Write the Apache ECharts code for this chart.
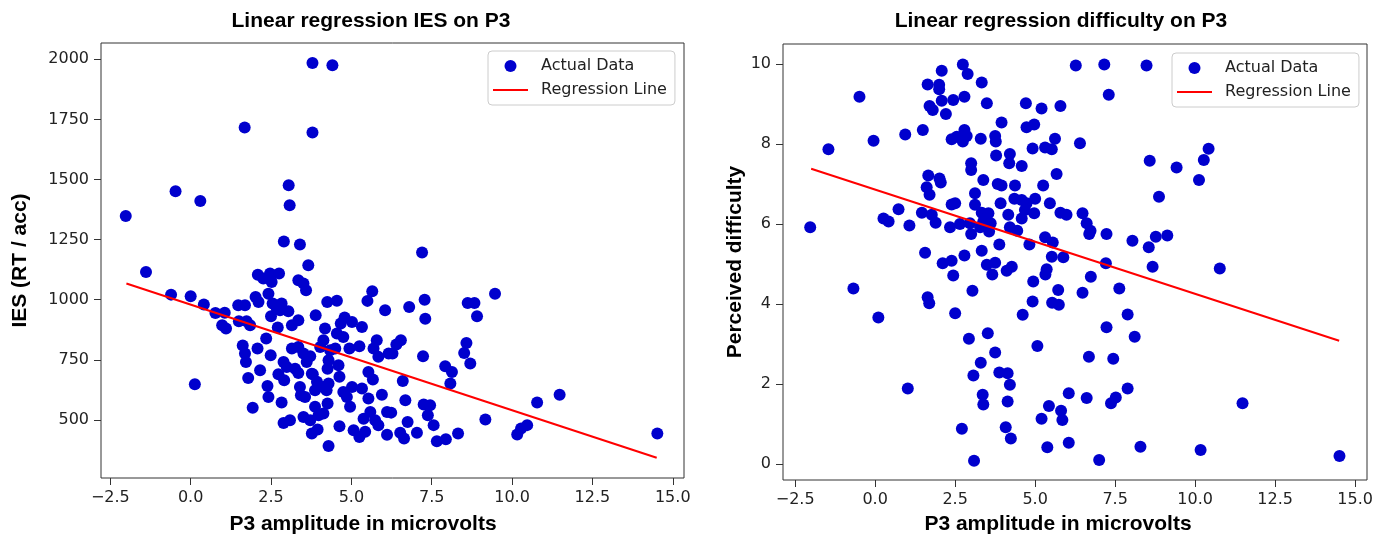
<!DOCTYPE html>
<html>
<head>
<meta charset="utf-8">
<title>Linear regression on P3</title>
<script src="https://cdn.jsdelivr.net/npm/echarts@6/dist/echarts.min.js"></script>
<style>
  html, body { margin: 0; padding: 0; background: #fff; }
  #chart { width: 1386px; height: 538px; }
</style>
</head>
<body>
<div id="chart"></div>
<script>
// P3 amplitude (x) and IES (y) for the left panel
const iesP3 = [
  3.79, 4.41, 1.68, 3.79, 3.05, -0.47, 0.30, 3.08, -2.02, 2.90,
  3.40, 3.66, -1.39, 2.09, 2.47, 2.75, 2.26, 2.52, 3.35, 3.51,
  3.59, -0.61, 0.00, 2.42, 2.02, 2.11, 0.41, 1.48, 1.69, 2.55,
  2.83, 2.68, 2.78, 3.04, 4.25, 4.55, 5.50, 5.65, 6.05, 0.77,
  1.06, 0.98, 1.10, 1.50, 1.74, 1.85, 2.50, 2.71, 3.15, 3.35,
  3.89, 4.18, 4.79, 5.02, 5.33, 4.67, 4.55, 4.75, 2.35, 1.62,
  1.69, 1.72, 2.08, 2.49, 3.15, 3.35, 3.51, 3.72, 4.13, 4.03,
  4.34, 4.50, 4.94, 5.25, 5.79, 5.69, 5.84, 6.16, 2.89, 2.99,
  3.25, 3.35, 3.61, 3.77, 4.29, 4.60, 4.26, 2.16, 1.79, 2.73,
  2.91, 3.80, 4.63, 5.53, 5.67, 0.13, 2.39, 3.40, 3.43, 3.56,
  3.93, 4.13, 4.29, 4.23, 3.87, 4.75, 5.02, 4.86, 4.96, 5.33,
  5.53, 5.95, 2.42, 2.83, 4.26, 3.87, 4.13, 1.93, 3.51, 3.72,
  3.98, 2.89, 3.09, 4.63, 5.38, 5.59, 5.74, 5.84, 6.11, 3.77,
  3.95, 5.07, 5.25, 5.43, 4.29, 6.11, 7.20, 7.28, 7.30, 6.80,
  8.62, 8.83, 8.91, 9.47, 6.40, 6.54, 6.28, 7.23, 8.58, 8.51,
  8.70, 7.92, 8.13, 8.08, 6.60, 6.68, 7.25, 7.45, 7.38, 7.56,
  6.24, 6.75, 6.52, 6.64, 7.04, 7.66, 7.94, 8.32, 9.17, 10.16,
  10.28, 10.47, 10.78, 11.48, 14.52
]
const iesValues = [
  1985, 1975, 1716, 1696, 1476, 1451, 1411, 1393, 1348, 1242,
  1230, 1143, 1115, 1104, 1109, 1109, 1088, 1074, 1081, 1067,
  1039, 1021, 1014, 1025, 1011, 990, 980, 977, 977, 984,
  984, 963, 956, 952, 990, 996, 995, 1035, 956, 945,
  946, 894, 880, 910, 910, 894, 931, 884, 894, 914,
  935, 880, 926, 907, 886, 901, 859, 845, 838, 809,
  776, 741, 797, 769, 797, 803, 776, 765, 831, 803,
  790, 797, 797, 806, 831, 797, 762, 776, 741, 720,
  713, 695, 741, 692, 748, 727, 713, 706, 674, 690,
  665, 690, 679, 699, 668, 648, 641, 637, 602, 595,
  658, 637, 651, 623, 623, 616, 637, 595, 554, 630,
  589, 604, 595, 572, 568, 554, 526, 550, 512, 498,
  519, 487, 498, 473, 505, 533, 498, 477, 533, 443,
  460, 457, 429, 450, 391, 438, 1196, 1000, 921, 970,
  986, 986, 931, 1025, 813, 831, 776, 765, 820, 778,
  734, 723, 699, 651, 662, 582, 564, 561, 519, 478,
  530, 491, 446, 422, 446, 411, 419, 443, 501, 439,
  464, 478, 572, 604, 443
]

// P3 amplitude (x) and perceived difficulty (y) for the right panel
const diffP3 = [
  2.74, 2.08, 2.89, 1.64, 2.00, 2.00, 3.33, -0.49, 2.08, 2.44,
  2.79, 3.49, 1.70, 1.80, 2.21, 4.71, 5.20, 5.79, 3.95, 4.73,
  4.97, 1.49, 0.94, -0.05, -1.46, 2.39, 2.55, 2.79, 2.86, 2.74,
  3.30, 3.75, 3.77, 5.62, 4.92, 5.31, 5.52, 3.78, 4.21, 4.19,
  4.58, 3.00, 3.00, 5.67, 1.66, 2.01, 2.05, 3.38, 3.83, 3.95,
  4.37, 5.25, 1.61, 1.70, 3.12, 4.35, 4.58, 5.00, 2.39, 2.50,
  3.12, 3.92, 4.73, 4.68, 5.46, 0.73, 0.26, 0.42, 1.07, -2.03,
  1.46, 1.77, 1.89, 2.34, 2.65, 2.96, 3.00, 3.33, 3.54, 3.38,
  3.61, 3.28, 3.56, 4.16, 4.21, 4.44, 4.58, 4.97, 5.79, 5.98,
  3.88, 4.82, 5.31, 5.55, 5.52, 5.88, 1.56, 2.79, 3.33, 2.11,
  2.39, 2.44, 3.49, 3.75, 3.66, 4.11, 4.27, 5.32, 5.36, 4.94,
  5.72, -0.68, 3.04, 1.64, 1.69, 4.92, 5.53, 5.74, 2.50, 4.61,
  0.10, 3.52, 2.93, 5.07, 3.75, 3.30, 3.07, 3.88, 4.14, 4.21,
  1.02, 6.05, 3.36, 3.38, 4.14, 5.43, 5.81, 5.85, 5.20, 2.71,
  4.08, 4.24, 5.38, 6.05, 3.09, 6.27, 7.16, 8.48, 7.30, 6.40,
  8.58, 9.42, 10.12, 10.27, 10.42, 8.87, 6.48, 6.61, 6.73, 6.69,
  7.23, 8.04, 8.77, 9.13, 8.55, 7.21, 8.67, 10.77, 6.74, 7.63,
  6.48, 7.89, 7.23, 8.11, 6.68, 7.44, 6.61, 7.37, 7.52, 7.89,
  11.48, 7.00, 8.29, 10.17, 14.51
]
const diffValues = [
  9.99, 9.83, 9.75, 9.49, 9.48, 9.37, 9.54, 9.18, 9.08, 9.10,
  9.18, 9.02, 8.95, 8.85, 8.75, 9.02, 8.89, 8.95, 8.54, 8.42,
  8.49, 8.35, 8.24, 8.08, 7.87, 8.12, 8.18, 8.35, 8.20, 8.06,
  8.13, 8.20, 8.06, 8.13, 7.89, 7.91, 7.87, 7.71, 7.75, 7.52,
  7.45, 7.52, 7.35, 7.25, 7.21, 7.14, 7.04, 7.10, 7.00, 6.96,
  6.96, 6.96, 6.92, 6.73, 6.77, 6.63, 6.60, 6.63, 6.49, 6.52,
  6.48, 6.52, 6.52, 6.35, 6.52, 6.37, 6.14, 6.06, 5.96, 5.92,
  6.28, 6.23, 6.03, 5.92, 6.00, 6.02, 5.75, 6.28, 6.27, 6.06,
  6.02, 5.92, 5.81, 6.23, 5.92, 5.83, 6.14, 6.27, 6.28, 6.23,
  5.49, 5.49, 5.67, 5.54, 5.18, 5.17, 5.28, 5.21, 5.33, 5.02,
  5.08, 4.71, 4.98, 5.03, 4.74, 4.83, 4.93, 4.74, 4.87, 4.56,
  4.35, 4.39, 4.33, 4.17, 4.02, 4.06, 4.03, 3.98, 3.77, 3.73,
  3.66, 3.27, 3.13, 2.95, 2.79, 2.53, 2.21, 2.29, 2.27, 1.98,
  1.89, 1.77, 1.73, 1.49, 1.56, 1.45, 1.33, 1.10, 1.13, 0.88,
  0.92, 0.64, 0.42, 0.53, 0.08, 9.96, 9.99, 9.96, 9.23, 8.02,
  7.58, 7.41, 7.10, 7.60, 7.88, 6.68, 6.27, 6.02, 5.83, 5.75,
  5.75, 5.58, 5.68, 5.71, 5.42, 5.02, 4.93, 4.89, 4.68, 4.39,
  4.28, 3.74, 3.42, 3.18, 2.68, 2.63, 1.65, 1.52, 1.66, 1.89,
  1.52, 0.10, 0.43, 0.35, 0.20
]

// fitted regression lines, start and end points
const lineP3 = [-2.0, 14.5]
const iesLine = [1067, 342]
const diffLine = [7.38, 3.08]

// tick labels
const p3Ticks = [-2.5, 0, 2.5, 5, 7.5, 10, 12.5, 15]
const iesTicks = [500, 750, 1000, 1250, 1500, 1750, 2000]
const diffTicks = [0, 2, 4, 6, 8, 10]

const tickFont = { fontFamily: 'DejaVu Sans', fontSize: 16, color: '#222' }
const boldFont = { fontFamily: 'Liberation Sans', fontWeight: 'bold', fontSize: 21, color: '#000' }

function zip(xs, ys) {
  return xs.map((x, i) => [x, ys[i]])
}

function formatP3(value) {
  return value.toFixed(1).replace('-', '\u2212')
}

function axis(gridIndex, min, max, ticks, formatter, extra) {
  return Object.assign({
    type: 'value',
    gridIndex,
    min,
    max,
    axisLine: { show: false, onZero: false },
    axisTick: {
      show: true,
      length: 7,
      customValues: ticks,
      lineStyle: { color: '#333', width: 1 }
    },
    axisLabel: Object.assign({ customValues: ticks, formatter, margin: 12 }, tickFont),
    splitLine: { show: false }
  }, extra)
}

function legend(left, top) {
  return {
    orient: 'vertical',
    left,
    top,
    itemWidth: 35,
    itemHeight: 12,
    itemGap: 8,
    padding: [7, 8, 7, 5],
    backgroundColor: 'rgba(255,255,255,0.8)',
    borderColor: '#cccccc',
    borderWidth: 1,
    borderRadius: 4,
    selectedMode: false,
    textStyle: Object.assign({ padding: [0, 0, 0, 8] }, tickFont),
    data: [
      { name: 'Actual Data', icon: 'circle' },
      // plain red stroke, no marker, like a matplotlib line handle
      { name: 'Regression Line', icon: 'path://M0,0L35,0L35,2L0,2Z' }
    ]
  }
}

const chart = echarts.init(document.getElementById('chart'))

chart.setOption({
  animation: false,
  backgroundColor: '#fff',
  title: [
    { text: 'Linear regression IES on P3', left: 371, top: 11, textAlign: 'center', padding: 0, textStyle: boldFont },
    { text: 'Linear regression difficulty on P3', left: 1061, top: 11, textAlign: 'center', padding: 0, textStyle: boldFont },
    { text: 'P3 amplitude in microvolts', left: 363, top: 514, textAlign: 'center', padding: 0, textStyle: boldFont },
    { text: 'P3 amplitude in microvolts', left: 1058, top: 514, textAlign: 'center', padding: 0, textStyle: boldFont }
  ],
  legend: [legend(488, 51), legend(1172, 53)],
  grid: [
    { left: 101, top: 43, width: 583, height: 435, show: true, borderColor: '#333', borderWidth: 1, backgroundColor: 'transparent' },
    { left: 783, top: 44, width: 584, height: 436, show: true, borderColor: '#333', borderWidth: 1, backgroundColor: 'transparent' }
  ],
  xAxis: [
    axis(0, -2.79, 15.35, p3Ticks, formatP3),
    axis(1, -2.88, 15.37, p3Ticks, formatP3)
  ],
  yAxis: [
    axis(0, 258, 2068, iesTicks, (v) => String(v), {
      name: 'IES (RT / acc)',
      nameLocation: 'middle',
      nameGap: 70,
      nameTextStyle: boldFont
    }),
    axis(1, -0.4, 10.5, diffTicks, (v) => String(v), {
      name: 'Perceived difficulty',
      nameLocation: 'middle',
      nameGap: 37,
      nameTextStyle: boldFont
    })
  ],
  series: [
    {
      name: 'Actual Data',
      type: 'scatter',
      xAxisIndex: 0,
      yAxisIndex: 0,
      symbolSize: 12,
      itemStyle: { color: '#0000cd', opacity: 1 },
      data: zip(iesP3, iesValues)
    },
    {
      name: 'Regression Line',
      type: 'line',
      xAxisIndex: 0,
      yAxisIndex: 0,
      symbol: 'none',
      lineStyle: { color: '#ff0000', width: 2 },
      itemStyle: { color: '#ff0000' },
      data: zip(lineP3, iesLine)
    },
    {
      name: 'Actual Data',
      type: 'scatter',
      xAxisIndex: 1,
      yAxisIndex: 1,
      symbolSize: 12,
      itemStyle: { color: '#0000cd', opacity: 1 },
      data: zip(diffP3, diffValues)
    },
    {
      name: 'Regression Line',
      type: 'line',
      xAxisIndex: 1,
      yAxisIndex: 1,
      symbol: 'none',
      lineStyle: { color: '#ff0000', width: 2 },
      itemStyle: { color: '#ff0000' },
      data: zip(lineP3, diffLine)
    }
  ]
})
</script>
</body>
</html>
